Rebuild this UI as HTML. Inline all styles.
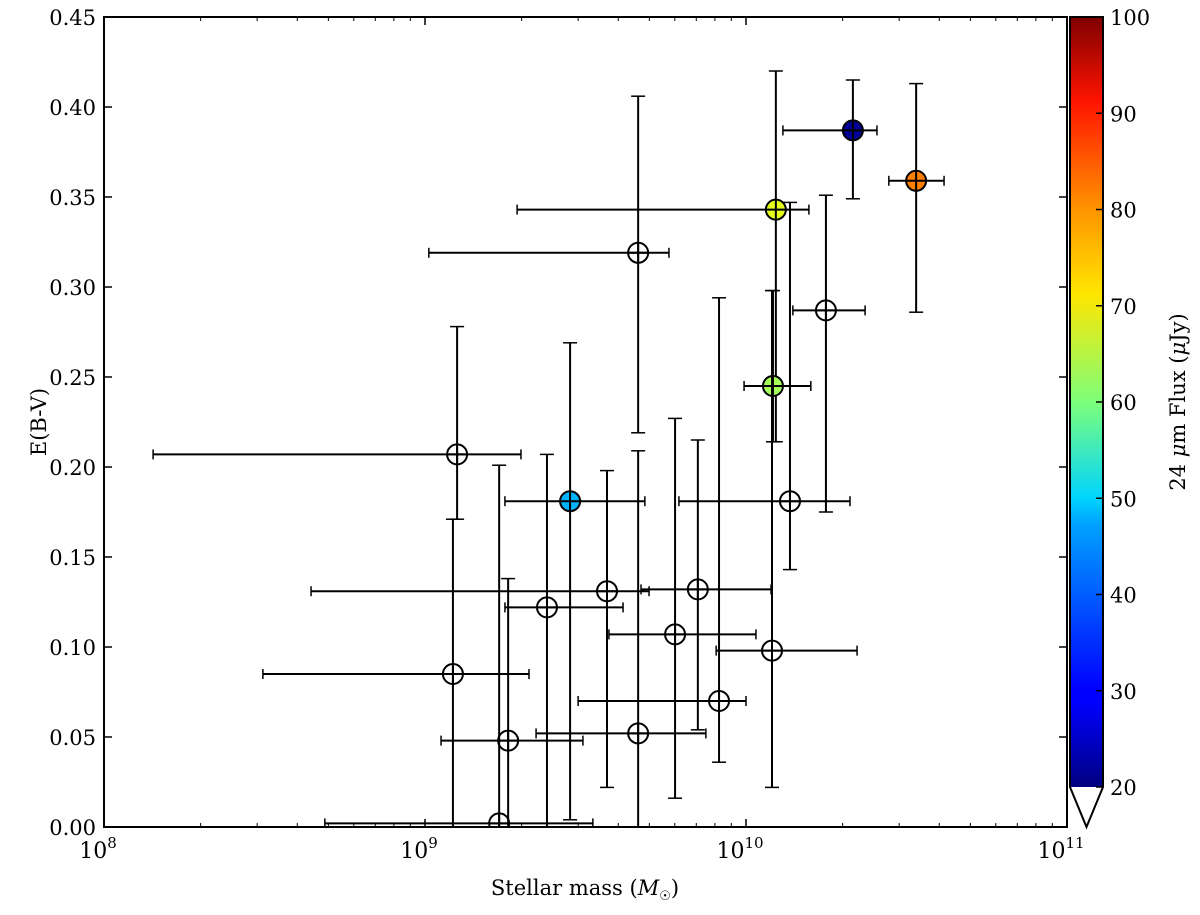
<!DOCTYPE html>
<html><head><meta charset="utf-8"><style>
body{margin:0;background:#fff}
svg text{font-family:"DejaVu Serif","Liberation Serif",serif;fill:#000}
</style></head><body>
<svg id="chart" width="1200" height="910" xmlns="http://www.w3.org/2000/svg">
<defs><linearGradient id="jet" x1="0" y1="1" x2="0" y2="0">
<stop offset="0" stop-color="#00007f"/><stop offset="0.11" stop-color="#0000ff"/><stop offset="0.125" stop-color="#0000ff"/>
<stop offset="0.34" stop-color="#00a0ff"/><stop offset="0.375" stop-color="#00d4ff"/><stop offset="0.5" stop-color="#7dff7a"/>
<stop offset="0.64" stop-color="#ffe600"/><stop offset="0.75" stop-color="#ff9400"/><stop offset="0.89" stop-color="#ff1400"/><stop offset="1" stop-color="#7f0000"/>
</linearGradient></defs>
<g id="plot"></g>
</svg>
<script>
const massLog=[10.333,10.530,10.093,10.084,10.081,10.137,10.249,9.664,9.452,9.100,9.087,9.231,9.259,9.380,9.567,9.664,9.850,9.779,9.916];
const massLo=[10.115,10.445,9.287,9.994,9.907,9.791,10.146,9.012,9.249,8.153,8.495,8.688,9.050,9.249,8.645,9.346,9.673,9.573,9.477];
const massHi=[10.408,10.617,10.196,10.202,10.346,10.324,10.371,9.760,9.685,9.299,9.324,9.523,9.492,9.617,9.698,9.875,10.078,10.031,10.0];
const ebv=[0.387,0.359,0.343,0.245,0.098,0.181,0.287,0.319,0.181,0.207,0.085,0.002,0.048,0.122,0.131,0.052,0.132,0.107,0.070];
const ebvHi=[0.415,0.413,0.420,0.298,0.298,0.347,0.351,0.406,0.269,0.278,0.171,0.201,0.138,0.207,0.198,0.209,0.215,0.227,0.294];
const ebvLo=[0.349,0.286,0.214,0.214,0.022,0.143,0.175,0.219,0.004,0.171,-0.02,-0.02,-0.02,-0.02,0.022,-0.02,0.054,0.016,0.036];
const flux=[22,80,68,63,null,null,null,null,44,null,null,null,null,null,null,null,null,null,null];
const yTicks=["0.00","0.05","0.10","0.15","0.20","0.25","0.30","0.35","0.40","0.45"];
const xTickExp=[8,9,10,11];
const cbTicks=[20,30,40,50,60,70,80,90,100];

const L=104,R=1067,T=17,B=827;
const xs=lg=>L+(lg-8)/3*(R-L);
const ys=v=>B-v/0.45*(B-T);
const cbT=17,cbB=787,cbX=1070,cbW=33;
const cs=v=>cbB-(v-20)/80*(cbB-cbT);
const NS="http://www.w3.org/2000/svg";
const g=document.getElementById('plot');
function el(t,a,p){const e=document.createElementNS(NS,t);for(const k in a)e.setAttribute(k,a[k]);(p||g).appendChild(e);return e;}
function jet(v){let t=Math.max(0,Math.min(1,(v-20)/80));
 const f=x=>Math.max(0,Math.min(1,1.5-Math.abs(x)));
 const r=f(4*t-3),gg=f(4*t-2),b=f(4*t-1);
 return `rgb(${Math.round(r*255)},${Math.round(gg*255)},${Math.round(b*255)})`;}
const cp=el('clipPath',{id:'cp'});el('rect',{x:L,y:T,width:R-L,height:B-T},cp);
const data=el('g',{'clip-path':'url(#cp)'});


for(let i=0;i<ebv.length;i++){
 const grp=el('g',{},data);
 
 
 const cx=xs(massLog[i]),cy=ys(ebv[i]);
 const x1=xs(massLo[i]),x2=xs(massHi[i]),y1=ys(ebvHi[i]),y2=ys(ebvLo[i]);
 const st={stroke:'#000','stroke-width':2};
 el('line',{x1:x1,y1:cy,x2:x2,y2:cy,...st},grp);
 el('line',{x1:cx,y1:y1,x2:cx,y2:y2,...st},grp);
 el('line',{x1:x1,y1:cy-5,x2:x1,y2:cy+5,stroke:'#000','stroke-width':1.5},grp);
 el('line',{x1:x2,y1:cy-5,x2:x2,y2:cy+5,stroke:'#000','stroke-width':1.5},grp);
 el('line',{x1:cx-7,y1:y1,x2:cx+7,y2:y1,stroke:'#000','stroke-width':1.5},grp);
 el('line',{x1:cx-7,y1:y2,x2:cx+7,y2:y2,stroke:'#000','stroke-width':1.5},grp);
 el('circle',{cx:cx,cy:cy,r:10,fill:flux[i]==null?'none':jet(flux[i]),stroke:'#000','stroke-width':2},grp);
 el('line',{x1:cx-10,y1:cy,x2:cx+10,y2:cy,...st},grp);
 el('line',{x1:cx,y1:cy-10,x2:cx,y2:cy+10,...st},grp);
}
const fr=el('rect',{x:L,y:T,width:R-L,height:B-T,fill:'none',stroke:'#000','stroke-width':2});


yTicks.forEach((t,i)=>{const v=parseFloat(t),y=ys(v);
 el('line',{x1:L,y1:y,x2:L+8,y2:y,stroke:'#000','stroke-width':1.5});
 el('line',{x1:R,y1:y,x2:R-8,y2:y,stroke:'#000','stroke-width':1.5});
 const tx=el('text',{x:L-8,y:y+8,'text-anchor':'end','font-size':21});tx.textContent=t;
 
 
});
xTickExp.forEach(e=>{const x=xs(e);
 el('line',{x1:x,y1:B,x2:x,y2:B-8,stroke:'#000','stroke-width':1.5});
 el('line',{x1:x,y1:T,x2:x,y2:T+8,stroke:'#000','stroke-width':1.5});
 const tx=el('text',{x:x-6,y:B+31,'text-anchor':'middle','font-size':22});
 
 
 tx.textContent='10';
 const sp=el('tspan',{dy:-10,'font-size':15},tx);sp.textContent=String(e);
 if(e<11)for(let k=2;k<10;k++){const xm=xs(e+Math.log10(k));
  el('line',{x1:xm,y1:B,x2:xm,y2:B-4,stroke:'#000','stroke-width':1});
  el('line',{x1:xm,y1:T,x2:xm,y2:T+4,stroke:'#000','stroke-width':1});}
});
const xt=el('text',{x:585,y:895,'text-anchor':'middle','font-size':21});


xt.innerHTML='Stellar mass (<tspan font-style="italic">M</tspan><tspan font-size="13" dy="5">☉</tspan><tspan dy="-5">)</tspan>';
const yt=el('text',{x:46,y:422,'text-anchor':'middle','font-size':21,transform:'rotate(-90 46 422)'});


yt.textContent='E(B-V)';
const cb=el('g',{});


el('rect',{x:cbX,y:cbT,width:cbW,height:cbB-cbT,fill:'url(#jet)'},cb);
el('path',{d:`M${cbX} ${cbT}H${cbX+cbW}V${cbB}L${cbX+cbW/2} 827L${cbX} ${cbB}Z`,fill:'none',stroke:'#000','stroke-width':2},cb);
cbTicks.forEach(v=>{const y=cs(v);
 el('line',{x1:cbX+cbW,y1:y,x2:cbX+cbW-7,y2:y,stroke:'#000','stroke-width':1.5},cb);
 const tx=el('text',{x:cbX+cbW+7,y:y+8,'font-size':21},cb);tx.textContent=String(v);
 
 
});
const ct=el('text',{x:1185,y:402,'text-anchor':'middle','font-size':21,transform:'rotate(-90 1185 402)'});


ct.innerHTML='24 <tspan font-style="italic">μ</tspan>m Flux (<tspan font-style="italic">μ</tspan>Jy)';
</script>
</body></html>
